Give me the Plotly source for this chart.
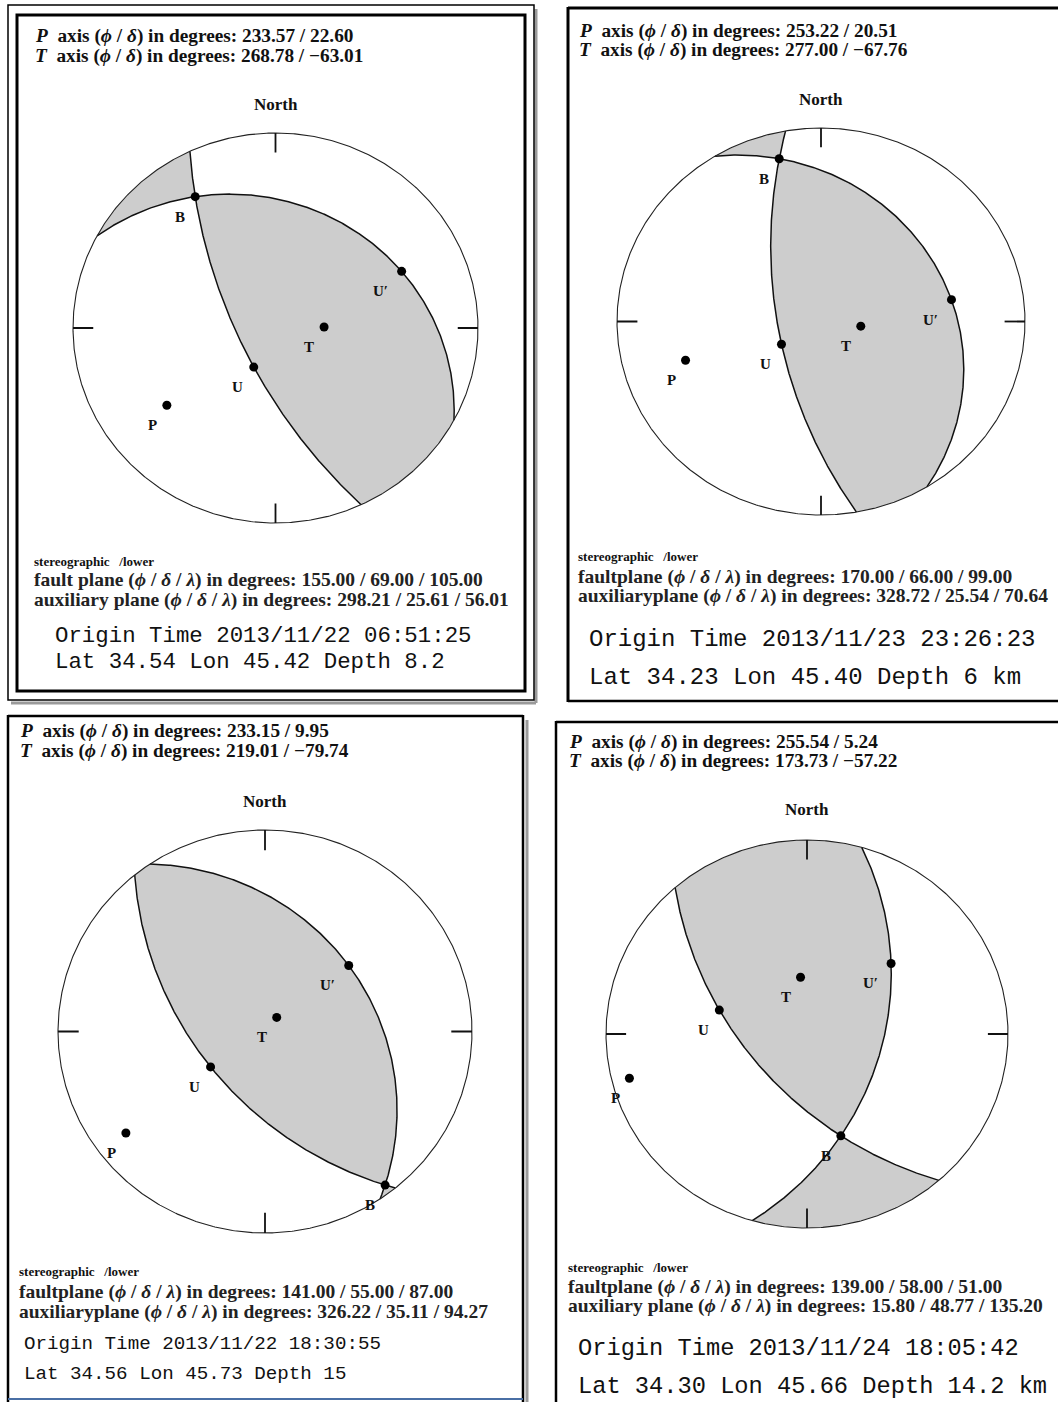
import numpy as np
import plotly.graph_objects as go

W, H = 1058, 1402

# ---------------- data ----------------
fault_strike = [155.00, 170.00, 141.00, 139.00]
fault_dip = [69.00, 66.00, 55.00, 58.00]
fault_rake = [105.00, 99.00, 87.00, 51.00]
aux_strike = [298.21, 328.72, 326.22, 15.80]
aux_dip = [25.61, 25.54, 35.11, 48.77]
aux_rake = [56.01, 70.64, 94.27, 135.20]
p_trend = [233.57, 253.22, 233.15, 255.54]
p_plunge = [22.60, 20.51, 9.95, 5.24]
t_trend = [268.78, 277.00, 219.01, 173.73]
t_plunge = [-63.01, -67.76, -79.74, -57.22]
origin_time = ["2013/11/22 06:51:25", "2013/11/23 23:26:23",
               "2013/11/22 18:30:55", "2013/11/24 18:05:42"]
lat = ["34.54", "34.23", "34.56", "34.30"]
lon = ["45.42", "45.40", "45.73", "45.66"]
depth = ["8.2", "6 km", "15", "14.2 km"]
fault_word = ["fault plane", "faultplane", "faultplane", "faultplane"]
aux_word = ["auxiliary plane", "auxiliaryplane", "auxiliaryplane", "auxiliary plane"]

# ---------------- layout geometry (pixels) ----------------
ball_cx = [275.5, 821.0, 265.0, 807.0]
ball_cy = [328.0, 321.5, 1031.5, 1034.0]
ball_rx = [202.5, 204.0, 207.0, 201.0]
ball_ry = [195.0, 193.5, 201.5, 194.0]
PAD = 1.06

text_x = [33, 577, 18, 567]
ptline_y = [(36, 56), (31, 50), (731, 751), (742, 761)]
north_y = [104, 99, 801, 810]
lower_y = [(562, 580, 600), (556, 577, 596), (1271, 1292, 1312), (1267, 1287, 1306)]
orig_x = [53, 587, 22, 576]
orig_y = [(636, 662), (639, 677), (1344, 1374), (1348, 1386)]
orig_size = [22.4, 24.0, 19.2, 23.7]

SERIF = "Liberation Serif, Times New Roman, serif"
MONO = "Liberation Mono, Courier New, monospace"
GRAY = "#cdcdcd"


def px(x):
    return x / W


def py(y):
    return 1 - y / H


def vec(trend, plunge):
    t, p = np.radians(trend), np.radians(plunge)
    return np.array([np.cos(p) * np.cos(t), np.cos(p) * np.sin(t), np.sin(p)])


def lower(v):
    return -v if v[2] < 0 else v


def proj(v):
    return v[1] / (1 + v[2]), v[0] / (1 + v[2])


def basis(strike, dip):
    f, d = np.radians(strike), np.radians(dip)
    s = np.array([np.cos(f), np.sin(f), 0.0])
    dv = np.array([-np.sin(f) * np.cos(d), np.cos(f) * np.cos(d), np.sin(d)])
    return s, dv


def plane_pts(strike, dip, t):
    s, dv = basis(strike, dip)
    return np.outer(s, np.cos(t)) + np.outer(dv, np.sin(t))


def fmt(v):
    return f"{v:.2f}".replace("-", "\u2212")


fig = go.Figure()
layout_axes = {}
annotations = []

for i in range(4):
    sfx = "" if i == 0 else str(i + 1)
    xa, ya = "x" + sfx, "y" + sfx
    cx, cy, rx, ry = ball_cx[i], ball_cy[i], ball_rx[i], ball_ry[i]
    layout_axes["xaxis" + sfx] = dict(domain=[px(cx - rx * PAD), px(cx + rx * PAD)],
                                      range=[-PAD, PAD], visible=False, fixedrange=True,
                                      anchor=ya)
    layout_axes["yaxis" + sfx] = dict(domain=[py(cy + ry * PAD), py(cy - ry * PAD)],
                                      range=[-PAD, PAD], visible=False, fixedrange=True,
                                      anchor=xa)

    fs, fd, fr = fault_strike[i], fault_dip[i], fault_rake[i]
    as_, ad = aux_strike[i], aux_dip[i]
    # fault normal and slip vector (Aki & Richards, N-E-Down)
    F, D, L = np.radians(fs), np.radians(fd), np.radians(fr)
    n = np.array([-np.sin(D) * np.sin(F), np.sin(D) * np.cos(F), -np.cos(D)])
    u = np.array([np.cos(L) * np.cos(F) + np.cos(D) * np.sin(L) * np.sin(F),
                  np.cos(L) * np.sin(F) - np.cos(D) * np.sin(L) * np.cos(F),
                  -np.sin(L) * np.sin(D)])

    s1, d1 = basis(fs, fd)
    s2, d2 = basis(as_, ad)
    n1, n2 = np.cross(s1, d1), np.cross(s2, d2)
    B = np.cross(n1, n2)
    B = lower(B / np.linalg.norm(B))
    tB1 = np.arctan2(B @ d1, B @ s1)
    tB2 = np.arctan2(B @ d2, B @ s2)

    # compressional quadrants
    for a in (0, 1):
        for b in (0, 1):
            alpha = fs + 180 * a
            beta = as_ + 180 * b
            diff = (beta - alpha + 180) % 360 - 180
            mid = np.radians(alpha + diff / 2)
            xm = np.array([np.cos(mid), np.sin(mid), 0.0])
            if (xm @ n) * (xm @ u) <= 0:
                continue
            x1, y1 = proj(plane_pts(fs, fd, np.linspace(tB1, a * np.pi, 200)))
            az = np.radians(alpha + np.linspace(0, diff, 200))
            x2, y2 = np.sin(az), np.cos(az)
            x3, y3 = proj(plane_pts(as_, ad, np.linspace(b * np.pi, tB2, 200)))
            fig.add_trace(go.Scatter(x=np.concatenate([x1, x2, x3]),
                                     y=np.concatenate([y1, y2, y3]),
                                     mode="lines", fill="toself", fillcolor=GRAY,
                                     line=dict(width=0), hoverinfo="skip",
                                     xaxis=xa, yaxis=ya))

    # nodal planes
    tt = np.linspace(0, np.pi, 400)
    for (st, dp) in ((fs, fd), (as_, ad)):
        xx, yy = proj(plane_pts(st, dp, tt))
        fig.add_trace(go.Scatter(x=xx, y=yy, mode="lines",
                                 line=dict(color="#111", width=1.5),
                                 hoverinfo="skip", xaxis=xa, yaxis=ya))

    # primitive circle
    th = np.linspace(0, 2 * np.pi, 721)
    fig.add_trace(go.Scatter(x=np.sin(th), y=np.cos(th), mode="lines",
                             line=dict(color="#222", width=1.1),
                             hoverinfo="skip", xaxis=xa, yaxis=ya))
    # N/E/S/W ticks
    tx, ty = [], []
    for azd in (0, 90, 180, 270):
        r = np.radians(azd)
        tx += [np.sin(r) * 1.0, np.sin(r) * 0.9, None]
        ty += [np.cos(r) * 1.0, np.cos(r) * 0.9, None]
    fig.add_trace(go.Scatter(x=tx, y=ty, mode="lines",
                             line=dict(color="#111", width=1.8),
                             hoverinfo="skip", xaxis=xa, yaxis=ya))

    # points
    Pv = lower(vec(p_trend[i], p_plunge[i]))
    Tv = lower(vec(t_trend[i], t_plunge[i]))
    Uv = vec(as_ - 90, 90 - ad)      # pole of auxiliary plane (slip on fault)
    Upv = vec(fs - 90, 90 - fd)      # pole of fault plane
    pts = [("P", Pv, -14), ("T", Tv, -15), ("U", Uv, -16), ("U\u2032", Upv, -21), ("B", B, -15)]
    xs, ys = [], []
    for lab, v, dx in pts:
        x0, y0 = proj(v)
        xs.append(x0)
        ys.append(y0)
        annotations.append(dict(x=x0, y=y0, xref=xa, yref=ya, text="<b>" + lab + "</b>",
                                showarrow=False, xanchor="center", yanchor="middle",
                                xshift=dx, yshift=-20,
                                font=dict(family=SERIF, size=15, color="#111")))
    fig.add_trace(go.Scatter(x=xs, y=ys, mode="markers", cliponaxis=False,
                             marker=dict(color="black", size=9),
                             hoverinfo="skip", xaxis=xa, yaxis=ya))

    # texts
    tx0 = text_x[i]
    annotations.append(dict(
        x=px(tx0), y=py(ptline_y[i][0]), xref="paper", yref="paper",
        text=f"<b><i>P</i>  axis (<i>\u03d5</i> / <i>\u03b4</i>) in degrees: "
             f"{fmt(p_trend[i])} / {fmt(p_plunge[i])}</b>",
        showarrow=False, xanchor="left", yanchor="middle",
        font=dict(family=SERIF, size=19.3, color="#111")))
    annotations.append(dict(
        x=px(tx0), y=py(ptline_y[i][1]), xref="paper", yref="paper",
        text=f"<b><i>T</i>  axis (<i>\u03d5</i> / <i>\u03b4</i>) in degrees: "
             f"{fmt(t_trend[i])} / {fmt(t_plunge[i])}</b>",
        showarrow=False, xanchor="left", yanchor="middle",
        font=dict(family=SERIF, size=19.3, color="#111")))
    annotations.append(dict(
        x=px(cx), y=py(north_y[i]), xref="paper", yref="paper",
        text="<b>North</b>", showarrow=False, xanchor="center", yanchor="middle",
        font=dict(family=SERIF, size=17, color="#111")))
    annotations.append(dict(
        x=px(tx0 - 1), y=py(lower_y[i][0]), xref="paper", yref="paper",
        text="<b>stereographic   /lower</b>", showarrow=False, xanchor="left",
        yanchor="middle", font=dict(family=SERIF, size=13, color="#111")))
    annotations.append(dict(
        x=px(tx0 - 1), y=py(lower_y[i][1]), xref="paper", yref="paper",
        text=f"<b>{fault_word[i]} (<i>\u03d5</i> / <i>\u03b4</i> / <i>\u03bb</i>) in degrees: "
             f"{fmt(fs)} / {fmt(fd)} / {fmt(fr)}</b>",
        showarrow=False, xanchor="left", yanchor="middle",
        font=dict(family=SERIF, size=19.5, color="#222")))
    annotations.append(dict(
        x=px(tx0 - 1), y=py(lower_y[i][2]), xref="paper", yref="paper",
        text=f"<b>{aux_word[i]} (<i>\u03d5</i> / <i>\u03b4</i> / <i>\u03bb</i>) in degrees: "
             f"{fmt(as_)} / {fmt(ad)} / {fmt(aux_rake[i])}</b>",
        showarrow=False, xanchor="left", yanchor="middle",
        font=dict(family=SERIF, size=19.5, color="#222")))
    annotations.append(dict(
        x=px(orig_x[i]), y=py(orig_y[i][0]), xref="paper", yref="paper",
        text=f"Origin Time {origin_time[i]}", showarrow=False,
        xanchor="left", yanchor="middle",
        font=dict(family=MONO, size=orig_size[i], color="#111")))
    annotations.append(dict(
        x=px(orig_x[i]), y=py(orig_y[i][1]), xref="paper", yref="paper",
        text=f"Lat {lat[i]} Lon {lon[i]} Depth {depth[i]}", showarrow=False,
        xanchor="left", yanchor="middle",
        font=dict(family=MONO, size=orig_size[i], color="#111")))

# ---------------- panel frames ----------------
shapes = []


def line(x0, y0, x1, y1, color="black", width=2.5):
    shapes.append(dict(type="line", xref="paper", yref="paper",
                       x0=px(x0), y0=py(y0), x1=px(x1), y1=py(y1),
                       line=dict(color=color, width=width)))


def rect(x0, y0, x1, y1, color="black", width=2.5):
    shapes.append(dict(type="rect", xref="paper", yref="paper",
                       x0=px(x0), y0=py(y0), x1=px(x1), y1=py(y1),
                       line=dict(color=color, width=width),
                       fillcolor="rgba(0,0,0,0)"))


# panel 1 (double frame with shadow)
line(536, 9, 536, 703, color="#9a9a9a", width=3)
line(11, 703, 536, 703, color="#9a9a9a", width=3)
rect(8, 5, 534, 700, width=1.5)
rect(17, 15, 525, 691, width=3)
# panel 2
line(568, 8, 1058, 8, width=3)
line(568, 7, 568, 702, width=3)
line(568, 701, 1058, 701, width=2.5)
# panel 3
line(527, 720, 527, 1402, color="#9a9a9a", width=3)
line(8, 716, 523, 716, width=2.5)
line(8, 715, 8, 1402, width=2.5)
line(523, 715, 523, 1402, width=2.5)
line(8, 1399, 523, 1399, color="#4a6fa5", width=2)
# panel 4
line(556, 722, 1058, 722, width=2.5)
line(556, 721, 556, 1402, width=2.5)

fig.update_layout(
    width=W, height=H, margin=dict(l=0, r=0, t=0, b=0),
    paper_bgcolor="white", plot_bgcolor="rgba(0,0,0,0)",
    showlegend=False, annotations=annotations, shapes=shapes,
    **layout_axes,
)

fig.write_html("out.html", config={"displayModeBar": False},
               post_script="document.body.style.margin='0';"
                           "document.body.style.overflow='hidden';")
